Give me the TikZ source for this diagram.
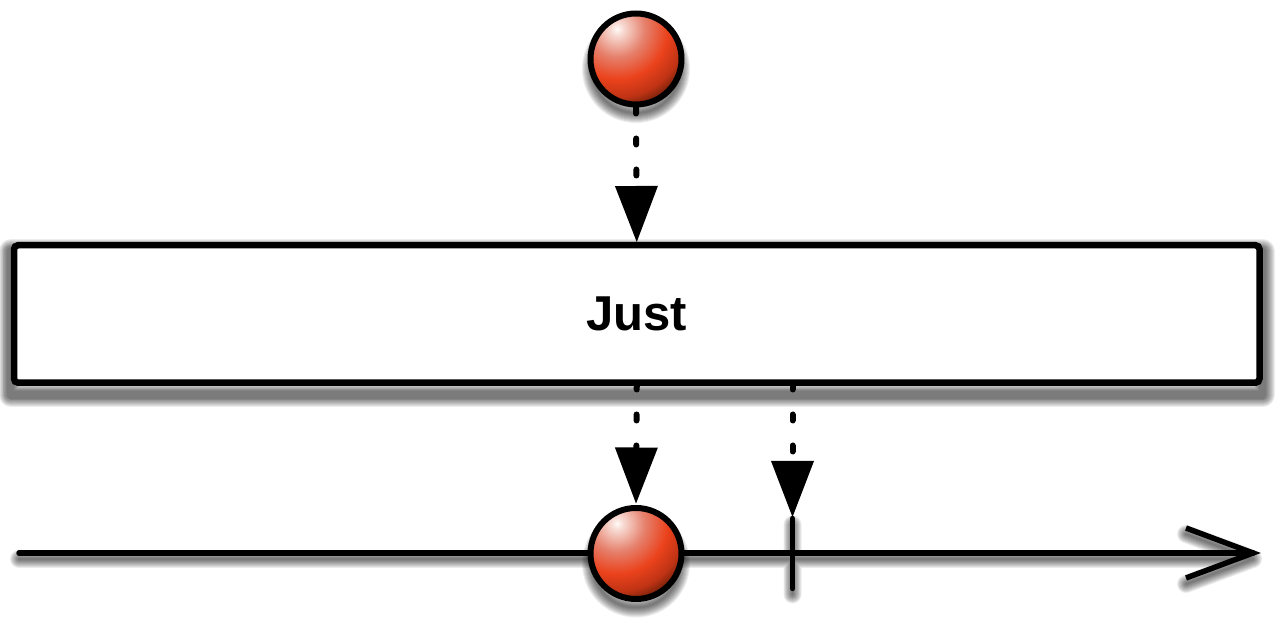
\documentclass[tikz,border=0pt]{standalone}
\usepackage{fontspec}
\setmainfont{Liberation Sans}
\usetikzlibrary{arrows.meta,backgrounds}

\pgfdeclareradialshading{redball}{\pgfpoint{0bp}{0bp}}{
    rgb(0bp)=(1,0.98,0.97);
    rgb(3bp)=(0.97,0.86,0.83);
    rgb(14bp)=(0.90,0.50,0.42);
    rgb(25bp)=(0.92,0.26,0.11);
    rgb(34bp)=(0.75,0.20,0.08);
    rgb(41bp)=(0.38,0.11,0.03);
    rgb(46bp)=(0.30,0.08,0.02)}

\tikzset{
    ball/.style={draw, circle, line width=3pt, minimum size=45.5pt, inner sep=0pt,
        path picture={\node[inner sep=0pt] at ([xshift=-9.5pt, yshift=15pt]path picture bounding box.center)
            {\pgfuseshading{redball}};}},
    operator/.style={draw, rectangle, line width=3.25pt, rounded corners=2pt, fill=white,
        minimum width=622.75pt, minimum height=68.75pt, font=\bfseries\fontsize{24.5}{28}\selectfont},
    drop/.style={line width=3pt, line cap=round, dash pattern=on 3pt off 12.5pt,
        -{Triangle[length=28pt, width=21.5pt, line width=0pt]}},
    timeline/.style={line width=2.75pt, line cap=round},
    softshadow/.style={black, opacity=0.07, line cap=round, line join=round}
}

\begin{document}
\begin{tikzpicture}[x=0.5pt, y=-0.5pt]
    \useasboundingbox (0,0) rectangle (1280,619);

    \coordinate (start) at (19,553);
    \coordinate (end)   at (1253,553);
    \coordinate (ticktop)    at (792.5,518.5);
    \coordinate (tickbottom) at (792.5,588.5);
    \coordinate (barbtop)    at (1186,528);
    \coordinate (barbbottom) at (1186,578);

    \draw[timeline] (start) -- (end);
    \draw[timeline] (ticktop) -- (tickbottom);
    \draw[timeline, line cap=butt, line join=miter] (barbtop) -- (end) -- (barbbottom);

    \node[ball]     at (636,59)      (input)  {};
    \node[operator] at (636.75,314)  (just)   {Just};
    \node[ball]     at (636,553.5)   (output) {};

    \draw[drop] (input.south) -- (just.north);
    \draw[drop, dash phase=1.25pt, shorten >=0.75pt] (just.south) -- (output.north);
    \draw[drop, dash phase=1.25pt, shorten >=0.75pt] (just.south -| ticktop) -- (ticktop);

    \begin{scope}[on background layer]
        \foreach \w in {1,2,...,10} {
            \draw[softshadow, line width=\w*0.9pt+2.8pt]
                ([yshift=-4.5pt]just.north west) rectangle ([yshift=-4.5pt]just.south east);
            \draw[softshadow, line width=\w*1pt]
                ([yshift=-5pt]input.center) circle[radius=22pt]
                ([yshift=-5pt]output.center) circle[radius=22pt];
            \draw[softshadow, line width=\w*0.9pt]
                ([yshift=-3pt]start) -- ([yshift=-3pt]end)
                ([yshift=-3pt]barbtop) -- ([yshift=-3pt]end) -- ([yshift=-3pt]barbbottom)
                ([yshift=-3pt]ticktop) -- ([yshift=-3pt]tickbottom);
        }
    \end{scope}
\end{tikzpicture}
\end{document}
